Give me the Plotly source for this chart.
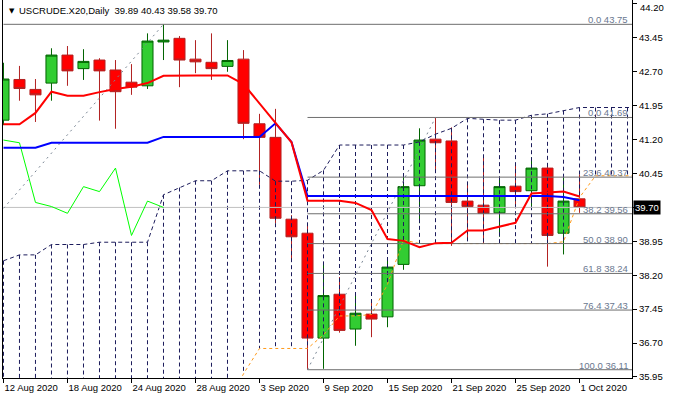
import plotly.graph_objects as go

# ---------------- data ----------------
dates = ["2020-08-12", "2020-08-13", "2020-08-14", "2020-08-17", "2020-08-18", "2020-08-19",
         "2020-08-20", "2020-08-21", "2020-08-24", "2020-08-25", "2020-08-26", "2020-08-27",
         "2020-08-28", "2020-08-31", "2020-09-01", "2020-09-02", "2020-09-03", "2020-09-04",
         "2020-09-07", "2020-09-08", "2020-09-09", "2020-09-10", "2020-09-11", "2020-09-14",
         "2020-09-15", "2020-09-16", "2020-09-17", "2020-09-18", "2020-09-21", "2020-09-22",
         "2020-09-23", "2020-09-24", "2020-09-25", "2020-09-28", "2020-09-29", "2020-09-30",
         "2020-10-01"]
future_dates = ["2020-10-02", "2020-10-05", "2020-10-06", "2020-10-07"]

opens = [41.63, 42.53, 42.31, 42.45, 43.07, 42.77, 42.96, 42.74, 42.47, 42.39, 43.36, 43.44,
         42.98, 42.91, 42.82, 42.98, 41.55, 41.25, 39.44, 39.13, 36.81, 37.78, 37.01, 37.34,
         37.28, 38.44, 40.18, 41.21, 41.17, 39.84, 39.75, 39.58, 40.17, 40.07, 40.57, 39.13,
         39.89]
highs = [42.90, 42.83, 42.54, 43.22, 43.27, 43.20, 43.00, 42.96, 42.87, 43.55, 43.75, 43.49,
         43.40, 43.55, 43.40, 43.18, 41.77, 41.88, 39.53, 39.33, 38.43, 38.16, 37.80, 37.67,
         38.55, 40.38, 41.45, 41.69, 41.47, 40.23, 40.80, 40.34, 40.64, 40.81, 40.67, 40.37,
         40.43]
lows = [41.52, 42.06, 41.59, 42.06, 42.39, 42.52, 41.62, 41.44, 42.19, 42.32, 42.96, 42.36,
        42.67, 42.52, 42.70, 41.21, 40.20, 39.35, 38.52, 36.11, 36.13, 36.93, 36.64, 36.83,
        37.05, 38.32, 39.35, 40.46, 38.85, 38.98, 38.91, 39.05, 39.68, 39.72, 38.39, 38.66,
        39.58]
closes = [42.54, 42.33, 42.19, 43.07, 42.72, 42.93, 42.72, 42.26, 42.36, 43.38, 43.40, 42.96,
          42.92, 42.77, 42.95, 41.56, 41.25, 39.46, 39.05, 36.81, 37.75, 36.98, 37.36, 37.23,
          38.38, 40.16, 41.19, 41.13, 39.81, 39.72, 39.57, 40.16, 40.05, 40.57, 39.08, 39.84,
          39.70]

tenkan = [41.54, 41.54, 41.79, 42.26, 42.17, 42.17, 42.25, 42.32, 42.37, 42.45, 42.61, 42.62,
          42.62, 42.62, 42.62, 42.43, 42.01, 41.57, 41.14, 39.85, 39.85, 39.85, 39.80, 39.64,
          39.00, 38.96, 38.82, 38.91, 38.92, 39.19, 39.19, 39.27, 39.36, 40.01, 40.03, 40.05,
          39.94]
kijun = [41.02, 41.02, 41.02, 41.13, 41.13, 41.13, 41.13, 41.13, 41.13, 41.13, 41.26, 41.26,
         41.26, 41.26, 41.26, 41.26, 41.26, 41.56, 41.15, 39.95, 39.95, 39.95, 39.95, 39.95,
         39.95, 39.95, 39.95, 39.95, 39.95, 39.95, 39.95, 39.95, 39.95, 39.95, 39.95, 39.93,
         39.86]
chikou = [41.19, 41.13, 39.81, 39.72, 39.57, 40.16, 40.05, 40.57, 39.08, 39.84, 39.70]

span_b = [38.52, 38.65, 38.65, 38.88, 38.88, 38.88, 38.93, 38.93, 38.93, 38.93, 39.98, 40.14,
          40.29, 40.29, 40.51, 40.51, 40.51, 40.28, 40.28, 40.30, 40.52, 41.08, 41.08, 41.08,
          41.08, 41.08, 41.15, 41.32, 41.45, 41.67, 41.65, 41.63, 41.63, 41.74, 41.77, 41.84,
          41.91, 41.91, 41.91, 41.91, 41.91]
span_a = [35.30, 35.30, 35.30, 35.30, 35.30, 35.30, 35.30, 35.30, 35.30, 35.30, 35.30, 35.30,
          35.30, 35.30, 35.30, 36.02, 36.58, 36.58, 36.58, 36.58, 36.88, 37.30, 37.30, 37.33,
          38.00, 38.98, 38.90, 38.90, 38.90, 38.90, 38.90, 38.90, 38.90, 38.90, 38.90, 38.94,
          39.92, 40.40, 40.40, 40.40, 40.40]

fib1_level = "0.0"
fib1_price = 43.75
fib1_trend_dates = ["2020-08-12", "2020-08-26"]
fib1_trend_prices = [39.68, 43.75]

fib2_levels = ["0.0", "23.6", "38.2", "50.0", "61.8", "76.4", "100.0"]
fib2_prices = [41.69, 40.37, 39.56, 38.90, 38.24, 37.43, 36.11]
fib2_trend_dates = ["2020-09-08", "2020-09-18"]
fib2_trend_prices = [36.11, 41.69]

last_price = 39.70
title_text = "USCRUDE.X20,Daily  39.89 40.43 39.58 39.70"

tick_dates = ["2020-08-12", "2020-08-18", "2020-08-24", "2020-08-28", "2020-09-03",
              "2020-09-09", "2020-09-15", "2020-09-21", "2020-09-25", "2020-10-01"]
tick_labels = ["12 Aug 2020", "18 Aug 2020", "24 Aug 2020", "28 Aug 2020", "3 Sep 2020",
               "9 Sep 2020", "15 Sep 2020", "21 Sep 2020", "25 Sep 2020", "1 Oct 2020"]
price_ticks = [35.95, 36.70, 37.45, 38.20, 38.95, 39.70, 40.45, 41.20, 41.95, 42.70, 43.45, 44.20]

# ---------------- styling ----------------
FONT = "Liberation Sans"
NAVY = "#1c1c5c"
ORANGE = "#ff9a1a"
FIBGRAY = "#6e6e6e"
TRENDGRAY = "#7a8694"
all_dates = dates + future_dates

fig = go.Figure()

# cloud hatching
hx, hy = [], []
for d, top, bot in zip(all_dates, span_b, span_a):
    hx += [d, d, None]
    hy += [top, bot, None]
fig.add_trace(go.Scatter(x=hx, y=hy, mode="lines",
                         line=dict(color=NAVY, width=1, dash="4px,3px"), hoverinfo="skip"))
fig.add_trace(go.Scatter(x=all_dates, y=span_a, mode="lines",
                         line=dict(color=ORANGE, width=1, dash="3px,3px"), hoverinfo="skip"))
fig.add_trace(go.Scatter(x=all_dates, y=span_b, mode="lines",
                         line=dict(color=NAVY, width=1, dash="4px,3px"), hoverinfo="skip"))

# current price line
fig.add_trace(go.Scatter(x=[all_dates[0], all_dates[-1]], y=[last_price, last_price], mode="lines",
                         line=dict(color="#c0c0c0", width=1), hoverinfo="skip"))

# fibonacci objects
fig.add_trace(go.Scatter(x=[all_dates[0], all_dates[-1]], y=[fib1_price, fib1_price], mode="lines",
                         line=dict(color=FIBGRAY, width=1), hoverinfo="skip"))
for p in fib2_prices:
    fig.add_trace(go.Scatter(x=[fib2_trend_dates[0], all_dates[-1]], y=[p, p], mode="lines",
                             line=dict(color=FIBGRAY, width=1), hoverinfo="skip"))
fig.add_trace(go.Scatter(x=fib1_trend_dates, y=fib1_trend_prices, mode="lines",
                         line=dict(color=TRENDGRAY, width=1, dash="2px,4px"), hoverinfo="skip"))
fig.add_trace(go.Scatter(x=fib2_trend_dates, y=fib2_trend_prices, mode="lines",
                         line=dict(color=TRENDGRAY, width=1, dash="2px,4px"), hoverinfo="skip"))

# ichimoku lines
fig.add_trace(go.Scatter(x=dates[:len(chikou)], y=chikou, mode="lines",
                         line=dict(color="#00ff00", width=1), hoverinfo="skip"))
fig.add_trace(go.Scatter(x=dates, y=kijun, mode="lines",
                         line=dict(color="#0000ff", width=2), hoverinfo="skip"))
fig.add_trace(go.Scatter(x=dates, y=tenkan, mode="lines",
                         line=dict(color="#ff0000", width=2), hoverinfo="skip"))

# candles on foreground
fig.add_trace(go.Candlestick(x=dates, open=opens, high=highs, low=lows, close=closes,
                             increasing=dict(line=dict(color="#006400", width=1), fillcolor="#32cd32"),
                             decreasing=dict(line=dict(color="#b22222", width=1), fillcolor="#ff0000"),
                             whiskerwidth=0, hoverinfo="skip"))

annotations = []
annotations.append(dict(xref="paper", yref="y", x=1, y=fib1_price, xanchor="right", yanchor="bottom",
                        text=f"{fib1_level} {fib1_price:.2f}", showarrow=False, xshift=-2, yshift=-3,
                        font=dict(family=FONT, size=9.5, color="#6a7890")))
for lv, p in zip(fib2_levels, fib2_prices):
    annotations.append(dict(xref="paper", yref="y", x=1, y=p, xanchor="right", yanchor="bottom",
                            text=f"{lv} {p:.2f}", showarrow=False, xshift=-2, yshift=-3,
                            font=dict(family=FONT, size=9.5, color="#6a7890")))
annotations.append(dict(xref="paper", yref="y", x=1, y=last_price, xanchor="left", yanchor="middle",
                        text=f"{last_price:.2f}", showarrow=False, xshift=1, bgcolor="#000000",
                        borderpad=1, font=dict(family=FONT, size=9.5, color="#ffffff")))
# top price label placed inside the page so it is not clipped
top_tick = max(price_ticks)
annotations.append(dict(xref="paper", yref="paper", x=1, y=1, xanchor="left", yanchor="top",
                        text=f"{top_tick:.2f}", showarrow=False, xshift=6, yshift=0,
                        font=dict(family=FONT, size=9.5, color="#000000")))
annotations.append(dict(xref="paper", yref="paper", x=0, y=1, xanchor="left", yanchor="top",
                        text="▼", showarrow=False, xshift=4, yshift=-5,
                        font=dict(family="DejaVu Sans", size=7, color="#000000")))
annotations.append(dict(xref="paper", yref="paper", x=0, y=1, xanchor="left", yanchor="top",
                        text=title_text, showarrow=False, xshift=14, yshift=-3,
                        font=dict(family=FONT, size=9.5, color="#000000")))

# the price box covers the 39.70 tick, the top tick is drawn as an annotation
ytext = ["" if (abs(v - last_price) < 1e-9 or v == top_tick) else f"{v:.2f}" for v in price_ticks]

fig.update_layout(
    width=700, height=400,
    margin=dict(l=3, r=68, t=0, b=22),
    paper_bgcolor="white", plot_bgcolor="white",
    showlegend=False,
    boxgap=0.31, boxgroupgap=0,
    annotations=annotations,
    font=dict(family=FONT, size=9.5, color="#000000"),
    xaxis=dict(type="category", categoryorder="array", categoryarray=all_dates,
               range=[-0.03, 39.28], tickmode="array", tickvals=tick_dates, ticktext=tick_labels,
               ticks="outside", ticklen=4, tickcolor="#000000", showline=True, linecolor="#000000",
               linewidth=1, showgrid=False, zeroline=False, rangeslider=dict(visible=False),
               ticklabelposition="outside right", ticklabelstandoff=1, ticklabeloverflow="allow",
               automargin=False, tickfont=dict(family=FONT, size=9.5)),
    yaxis=dict(side="right", range=[35.927, 44.288], tickmode="array", tickvals=price_ticks,
               ticktext=ytext, ticks="outside", ticklen=4, ticklabelstandoff=0,
               ticklabeloverflow="allow",
               tickcolor="#000000", showline=True, mirror=True, linecolor="#000000", linewidth=1,
               showgrid=False, zeroline=False, automargin=False,
               tickfont=dict(family=FONT, size=9.5)),
)

fig.write_html("out.html", config={"displayModeBar": False, "staticPlot": True},
               post_script="document.body.style.margin='0px';document.body.style.overflow='hidden';")
